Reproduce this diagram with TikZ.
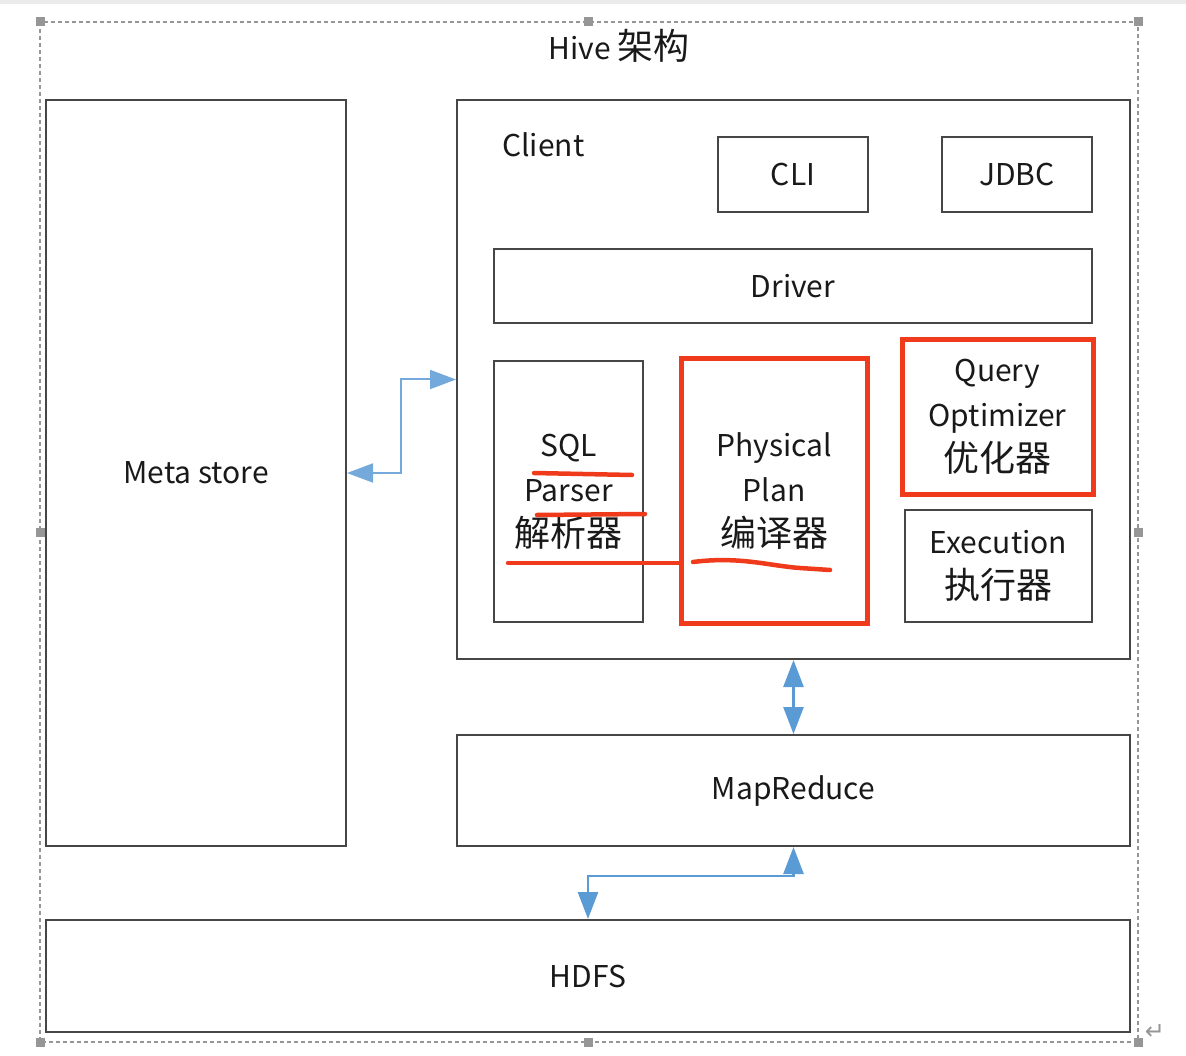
\documentclass[tikz,border=0pt]{standalone}
\usepackage{fontspec}
\setmainfont{Noto Sans CJK SC}
\newfontfamily\symfont{DejaVu Sans}
\newcommand\zh[1]{{\fontsize{36}{45}\selectfont #1}}
\usetikzlibrary{arrows.meta}
\definecolor{boxline}{RGB}{70,70,70}
\definecolor{arrowblue}{RGB}{91,155,213}
\definecolor{annored}{RGB}{240,58,28}
\definecolor{framegray}{RGB}{150,150,150}
\begin{document}
\begin{tikzpicture}[x=1pt,y=-1pt,
  box/.style={draw=boxline,line width=2pt,rectangle,inner sep=0pt,align=center,
    font=\fontsize{30}{45}\selectfont,text=black!90},
  redbox/.style={box,draw=annored,line width=5pt},
  biarrow/.style={draw=arrowblue,line width=2.6pt,
    {Triangle[length=27pt,width=20pt]}-{Triangle[length=27pt,width=20pt]}},
  thinarrow/.style={draw=arrowblue!85,line width=2pt,
    {Triangle[length=26pt,width=19pt]}-{Triangle[length=26pt,width=19pt]}},
  handle/.style={fill=framegray,draw=none,minimum size=9pt,inner sep=0pt,rectangle},
  anno/.style={draw=annored,line width=4.5pt,line cap=round},
  lbl/.style={font=\fontsize{30}{45}\selectfont,text=black!90,inner sep=0pt}]
\useasboundingbox (0,0) rectangle (1186,1056);
\fill[black!8] (0,0) rectangle (1186,4);
% outer frame
\draw[framegray,line width=1.2pt,dash pattern=on 4pt off 3pt] (40,22) rectangle (1138,1042);
\foreach \p/\n in {{40,22}/h1,{588,22}/h2,{1138,22}/h3,{40,532}/h4,{1138,532}/h5,{40,1042}/h6,{588,1042}/h7,{1138,1042}/h8}
  \node[handle] (\n) at (\p) {};
\node[lbl] (title) at (619,46) {Hive \zh{架构}};
% boxes
\node[box,minimum width=300pt,minimum height=746pt] (ms) at (196,473) {Meta store};
\node[box,minimum width=673pt,minimum height=559pt] (client) at (793.5,379.5) {};
\node[lbl,anchor=west] (clientlbl) at (502,145) {Client};
\node[box,minimum width=150pt,minimum height=75pt] (cli) at (793,174.5) {CLI};
\node[box,minimum width=150pt,minimum height=75pt] (jdbc) at (1017,174.5) {JDBC};
\node[box,minimum width=598pt,minimum height=74pt] (driver) at (793,286) {Driver};
\node[box,minimum width=149pt,minimum height=261pt] (sql) at (568.5,491.5) {SQL\\Parser\\\zh{解析器}};
\node[redbox,minimum width=186pt,minimum height=264pt] (pp) at (774,491) {Physical\\Plan\\\zh{编译器}};
\node[redbox,minimum width=191pt,minimum height=154pt] (qo) at (997.5,417) {Query\\Optimizer\\\zh{优化器}};
\node[box,minimum width=187pt,minimum height=112pt] (ex) at (998.5,566) {Execution\\\zh{执行器}};
\node[box,minimum width=673pt,minimum height=111pt] (mr) at (793.5,790.5) {MapReduce};
\node[box,minimum width=1084pt,minimum height=112pt] (hdfs) at (588,976) {HDFS};
% connectors
\draw[thinarrow] (ms.east) -- (401,473) |- (client.west);
\draw[biarrow] (client.south) -- (mr.north);
\draw[biarrow] (mr.south) -- ++(0,29) -| (hdfs.north);
% red annotations
\draw[anno] (534,473) -- (632,475);
\draw[anno] (537,515) -- (645,514);
\coordinate (u1) at (508,563);
\draw[anno] (u1) -- (pp.west |- u1);
\draw[anno] (693,562) .. controls (740,556) and (770,566) .. (800,568) -- (830,570);
\node[font=\fontsize{24}{28}\symfont,text=framegray,inner sep=0pt] (ret) at (1155,1032) {↵};
\end{tikzpicture}
\end{document}
